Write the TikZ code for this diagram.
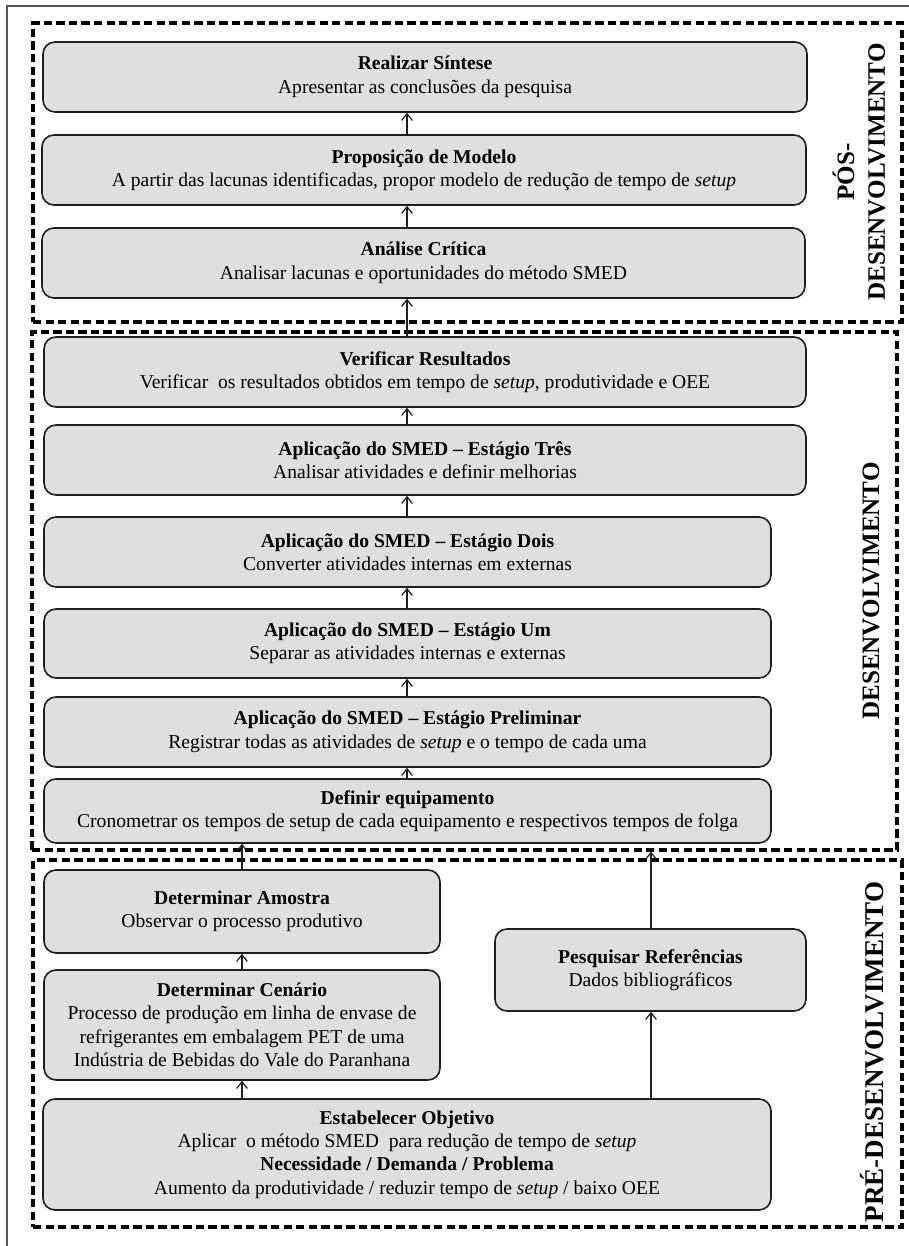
\documentclass[tikz,border=0pt]{standalone}
\usepackage{fontspec}
\setmainfont{Liberation Serif}
\usetikzlibrary{arrows.meta,calc}
\definecolor{boxfill}{HTML}{DFDFDF}
\definecolor{boxline}{HTML}{1E1E1E}
\definecolor{framegray}{HTML}{555555}
\tikzset{
  box/.style={draw=boxline, fill=boxfill, rounded corners=9pt, line width=1.2pt, align=center, inner sep=0pt,
    font=\fontsize{14.7}{17.6}\selectfont},
  dashbox/.style={draw=black, line width=2.4pt, dash pattern=on 6.2pt off 3.2pt, inner sep=0pt},
  arr/.style={draw=boxline, line width=1pt, -{Straight Barb[length=5pt,width=8pt,line width=0.9pt]}},
  phase/.style={rotate=90, align=center, font=\bfseries\fontsize{18.8}{23}\selectfont, inner sep=0pt},
}
\newcommand\mybox[6]{\node[box, minimum width={(#4-#2)*0.75pt}, minimum height={(#5-#3)*0.75pt}] (#1) at ({(#2+#4)/2},{(#3+#5)/2}) {#6};}
\newcommand\myframe[5]{\node[dashbox, minimum width={(#4-#2)*0.75pt}, minimum height={(#5-#3)*0.75pt}] (#1) at ({(#2+#4)/2},{(#3+#5)/2}) {};}
\begin{document}
\begin{tikzpicture}[x=0.75pt,y=-0.75pt]
\useasboundingbox (0,0) rectangle (909,1246);
% outer frame
\draw[framegray, line width=1.2pt] (7,1246) -- (7,6) -- (909,6);
% phase frames
\myframe{f1}{33}{23}{902}{322}
\myframe{f2}{32}{332}{897}{850}
\myframe{f3}{33}{860}{902}{1227}
% boxes
\mybox{b1}{43}{42}{807}{112}{\textbf{Realizar Síntese}\\Apresentar as conclusões da pesquisa}
\mybox{b2}{42}{135}{806}{205}{\textbf{Proposição de Modelo}\\A partir das lacunas identificadas, propor modelo de redução de tempo de \textit{setup}}
\mybox{b3}{42}{228}{805}{298}{\textbf{Análise Crítica}\\Analisar lacunas e oportunidades do método SMED}
\mybox{b4}{44}{337}{806}{407}{\textbf{Verificar Resultados}\\Verificar\ \ os resultados obtidos em tempo de \textit{setup}, produtividade e OEE}
\mybox{b5}{44}{425}{806}{495}{\textbf{Aplicação do SMED – Estágio Três}\\Analisar atividades e definir melhorias}
\mybox{b6}{44}{517}{771}{587}{\textbf{Aplicação do SMED – Estágio Dois}\\Converter atividades internas em externas}
\mybox{b7}{44}{609}{771}{678}{\textbf{Aplicação do SMED – Estágio Um}\\Separar as atividades internas e externas}
\mybox{b8}{44}{697}{771}{767}{\textbf{Aplicação do SMED – Estágio Preliminar}\\Registrar todas as atividades de \textit{setup} e o tempo de cada uma}
\mybox{b9}{44}{779}{771}{843}{\textbf{Definir equipamento}\\Cronometrar os tempos de setup de cada equipamento e respectivos tempos de folga}
\mybox{b10}{44}{870}{440}{953}{\textbf{Determinar Amostra}\\Observar o processo produtivo}
\mybox{b11}{44}{970}{440}{1080}{\textbf{Determinar Cenário}\\Processo de produção em linha de envase de\\refrigerantes em embalagem PET de uma\\Indústria de Bebidas do Vale do Paranhana}
\mybox{b12}{495}{929}{806}{1011}{\textbf{Pesquisar Referências}\\Dados bibliográficos}
\mybox{b13}{43}{1099}{771}{1210}{\textbf{Estabelecer Objetivo}\\Aplicar\ \ o método SMED\ \ para redução de tempo de \textit{setup}\\\textbf{Necessidade / Demanda / Problema}\\Aumento da produtividade / reduzir tempo de \textit{setup} / baixo OEE}
% arrow columns
\coordinate (cA) at (407,0);
\coordinate (cL) at (242,0);
\coordinate (cR) at (651,0);
\draw[arr] (b2.north -| cA) -- (b1.south -| cA);
\draw[arr] (b3.north -| cA) -- (b2.south -| cA);
\draw[arr] (b4.north -| cA) -- (b3.south -| cA);
\draw[arr] (b5.north -| cA) -- (b4.south -| cA);
\draw[arr] (b6.north -| cA) -- (b5.south -| cA);
\draw[arr] (b7.north -| cA) -- (b6.south -| cA);
\draw[arr] (b8.north -| cA) -- (b7.south -| cA);
\draw[arr] (b9.north -| cA) -- (b8.south -| cA);
\draw[arr] (b10.north -| cL) -- (b9.south -| cL);
\draw[arr] (b11.north -| cL) -- (b10.south -| cL);
\draw[arr] (b13.north -| cL) -- (b11.south -| cL);
\draw[arr] (b12.north -| cR) -- (f2.south -| cR);
\draw[arr] (b13.north -| cR) -- (b12.south -| cR);
% phase labels
\node[phase] (p1) at (859,172) {PÓS-\\DESENVOLVIMENTO};
\node[phase] (p2) at (871,591) {DESENVOLVIMENTO};
\node[phase, font=\bfseries\fontsize{20.3}{24}\selectfont] (p3) at (872,1052) {PRÉ-DESENVOLVIMENTO};
\end{tikzpicture}
\end{document}
